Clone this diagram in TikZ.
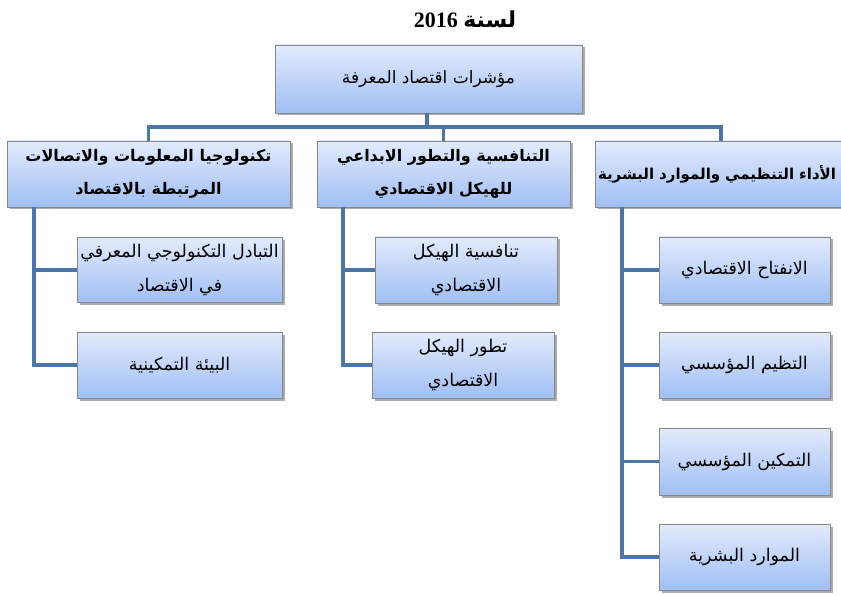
\documentclass[tikz,border=0pt]{standalone}
\usepackage{fontspec}
\setmainfont{Liberation Serif}
\newfontfamily\ar[Script=Arabic]{DejaVu Sans}
\TeXXeTstate=1
\usetikzlibrary{shadows}
\definecolor{conncol}{RGB}{74,118,170}
\definecolor{boxtop}{RGB}{226,235,252}
\definecolor{boxbot}{RGB}{160,191,243}
\definecolor{boxedge}{RGB}{135,135,135}
\begin{document}
\begin{tikzpicture}[x=1pt,y=-1pt,
  box/.style={draw=boxedge, line width=0.8pt, top color=boxtop, bottom color=boxbot,
    inner sep=0pt, align=center,
    drop shadow={shadow xshift=2.5pt, shadow yshift=-2.5pt, fill=black!55, opacity=0.6}},
  lvtwo/.style={box, font=\ar\bfseries\fontsize{16}{33}\selectfont},
  leaf/.style={box, font=\ar\fontsize{17.5}{34}\selectfont},
  conn/.style={draw=conncol, line width=3.6pt}]
\useasboundingbox (0,0) rectangle (841,596);
\clip (0,0) rectangle (841,596);

% title
\node[font=\bfseries\fontsize{22}{26}\selectfont] (title) at (465,19)
  {\beginR{\ar\bfseries لسنة} \beginL 2016\endL\endR};

% top
\node[box, minimum width=307pt, minimum height=68pt, font=\ar\fontsize{17}{20}\selectfont]
  (top) at (428.5,79) {\beginR مؤشرات اقتصاد المعرفة\endR};

% level two
\node[lvtwo, minimum width=283pt, minimum height=66pt] (l2a) at (148.5,174)
  {\beginR تكنولوجيا المعلومات والاتصالات\endR\\\beginR المرتبطة بالاقتصاد\endR};
\node[lvtwo, minimum width=253pt, minimum height=66pt] (l2b) at (443.5,174)
  {\beginR التنافسية والتطور الابداعي\endR\\\beginR للهيكل الاقتصادي\endR};
\node[lvtwo, text width=284pt, inner xsep=3pt, align=left, minimum height=66pt,
  font=\ar\bfseries\fontsize{15}{33}\selectfont] (l2c) at (740,174)
  {\beginR الأداء التنظيمي والموارد البشرية\endR};

% leaves left
\node[leaf, minimum width=205pt, minimum height=65pt] (la1) at (179.5,270)
  {\beginR التبادل التكنولوجي المعرفي\endR\\\beginR في الاقتصاد\endR};
\node[leaf, minimum width=205pt, minimum height=66pt] (la2) at (179.5,365)
  {\beginR البيئة التمكينية\endR};
% leaves middle
\node[leaf, minimum width=182pt, minimum height=66pt] (lb1) at (466,270)
  {\beginR تنافسية الهيكل\endR\\\beginR الاقتصادي\endR};
\node[leaf, minimum width=182pt, minimum height=66pt] (lb2) at (463,365)
  {\beginR تطور الهيكل\endR\\\beginR الاقتصادي\endR};
% leaves right
\node[leaf, minimum width=171pt, minimum height=66pt] (lc1) at (744.5,270)
  {\beginR الانفتاح الاقتصادي\endR};
\node[leaf, minimum width=171pt, minimum height=66pt] (lc2) at (744.5,365)
  {\beginR التظيم المؤسسي\endR};
\node[leaf, minimum width=171pt, minimum height=67pt] (lc3) at (744.5,461.5)
  {\beginR التمكين المؤسسي\endR};
\node[leaf, minimum width=171pt, minimum height=66pt] (lc4) at (744.5,557)
  {\beginR الموارد البشرية\endR};

% connectors
\coordinate (bus) at (0,127);
\coordinate (topc) at (427,113);
\coordinate (ctop) at (721,141);
\coordinate (ta) at (34,207);
\coordinate (tb) at (343,207);
\coordinate (tc) at (622,207);
\draw[conn] (topc) -- (topc |- bus);
\draw[conn] (l2a.north) -- (l2a.north |- bus) -- (ctop |- bus) -- (ctop);
\draw[conn] (l2b.north) -- (l2b.north |- bus);
\draw[conn] (ta) |- (la1.west);
\draw[conn] (ta) |- (la2.west);
\draw[conn] (tb) |- (lb1.west);
\draw[conn] (tb) |- (lb2.west);
\draw[conn] (tc) |- (lc1.west);
\draw[conn] (tc) |- (lc2.west);
\draw[conn] (tc) |- (lc3.west);
\draw[conn] (tc) |- (lc4.west);
\end{tikzpicture}
\end{document}
